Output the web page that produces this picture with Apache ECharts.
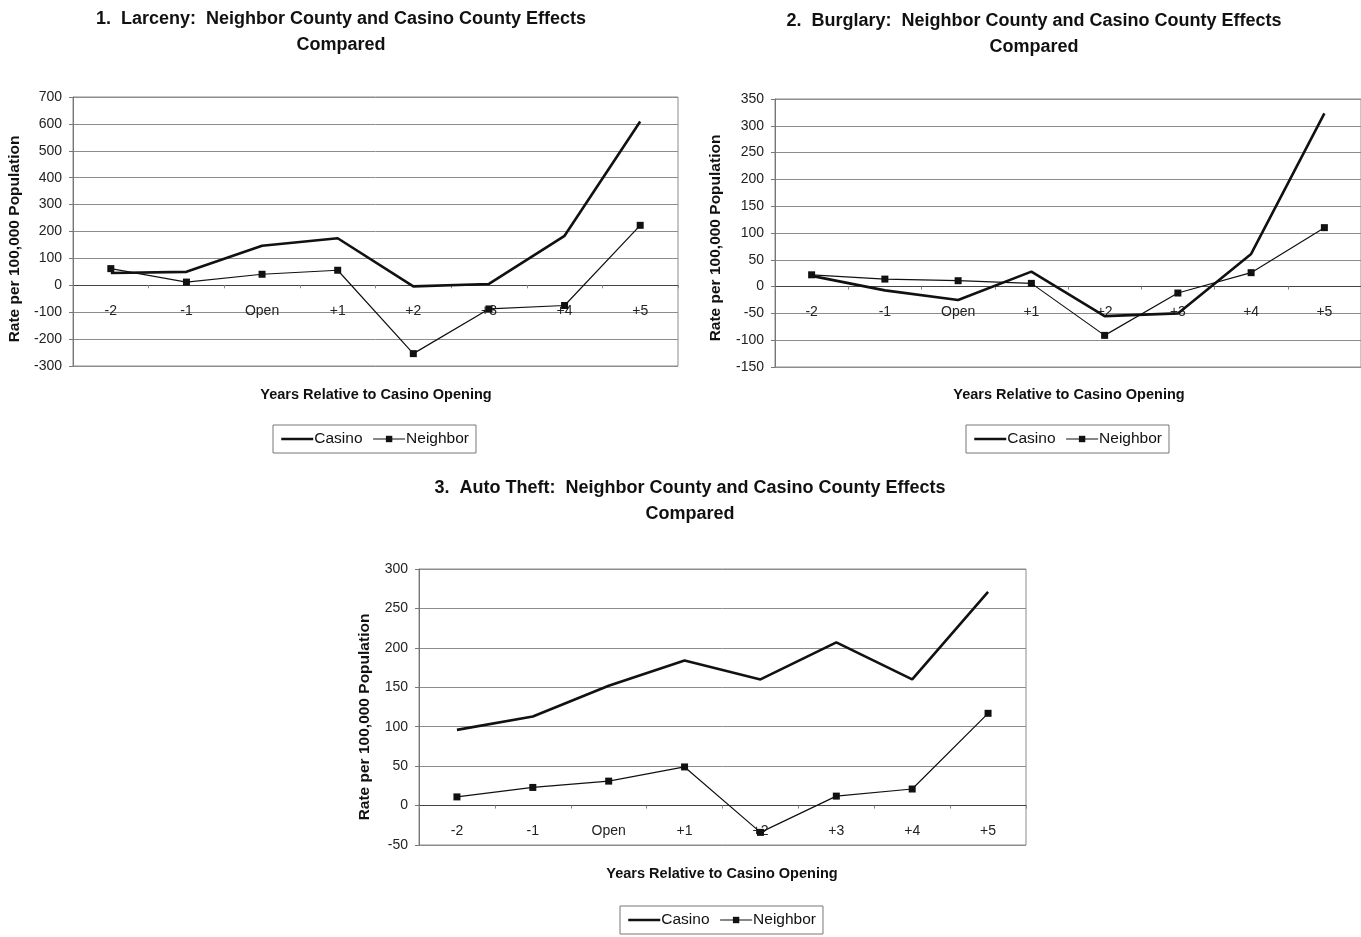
<!DOCTYPE html>
<html>
<head>
<meta charset="utf-8">
<title>Neighbor County and Casino County Effects Compared</title>
<script src="https://cdn.jsdelivr.net/npm/echarts@6/dist/echarts.min.js"></script>
<style>
  html, body { margin: 0; padding: 0; background: #fff; }
  #chart { width: 1361px; height: 937px; }
</style>
</head>
<body>
<div id="chart"></div>
<script>
// Years relative to casino opening
const years = ['-2', '-1', 'Open', '+1', '+2', '+3', '+4', '+5'];

// 1. Larceny (rate per 100,000 population)
const larcenyCasino   = [46, 50, 147, 175, -4, 5, 184, 609];
const larcenyNeighbor = [62, 12, 41, 56, -254, -88, -75, 223];

// 2. Burglary
const burglaryCasino   = [20, -7, -25, 28, -55, -50, 61, 323];
const burglaryNeighbor = [22, 14, 11, 6, -91, -12, 26, 110];

// 3. Auto theft
const autoCasino   = [96, 113, 152, 184, 160, 207, 160, 271];
const autoNeighbor = [11, 23, 31, 49, -34, 12, 21, 117];

// Value-axis ranges
const larcenyAxis  = { min: -300, max: 700, interval: 100 };
const burglaryAxis = { min: -150, max: 350, interval: 50 };
const autoAxis     = { min: -50,  max: 300, interval: 50 };

const titles = [
  '1.  Larceny:  Neighbor County and Casino County Effects\nCompared',
  '2.  Burglary:  Neighbor County and Casino County Effects\nCompared',
  '3.  Auto Theft:  Neighbor County and Casino County Effects\nCompared'
];
const yName = 'Rate per 100,000 Population';
const xName = 'Years Relative to Casino Opening';

const FONT = '"Liberation Sans", Arial, sans-serif';

// panel layout: grid box, title centre, axis-name spots, legend spot
const panels = [
  { grid: { left: 73, top: 97, width: 605, height: 269 },
    titleX: 336, titleY: 1, yNameX: 15, yNameY: 239, xNameX: 376, xNameY: 395,
    legendX: 273, legendY: 425, axis: larcenyAxis, casino: larcenyCasino, neighbor: larcenyNeighbor },
  { grid: { left: 775, top: 99, width: 586, height: 268 },
    titleX: 1029, titleY: 3, yNameX: 716, yNameY: 238, xNameX: 1069, xNameY: 395,
    legendX: 966, legendY: 425, axis: burglaryAxis, casino: burglaryCasino, neighbor: burglaryNeighbor },
  { grid: { left: 419, top: 569, width: 607, height: 276 },
    titleX: 685, titleY: 470, yNameX: 365, yNameY: 717, xNameX: 722, xNameY: 874,
    legendX: 620, legendY: 906, axis: autoAxis, casino: autoCasino, neighbor: autoNeighbor }
];

// the category axis sits on the zero line: lift it from the grid bottom by zero's share of the height
function zeroLift(p) {
  return -p.grid.height * (0 - p.axis.min) / (p.axis.max - p.axis.min);
}

const option = {
  backgroundColor: '#fff',
  animation: false,
  textStyle: { fontFamily: FONT },
  title: panels.map((p, i) => ({
    text: titles[i],
    left: p.titleX,
    top: p.titleY,
    textAlign: 'center',
    textStyle: { fontFamily: FONT, fontSize: 18, fontWeight: 'bold', color: '#111', lineHeight: 26 }
  })),
  legend: panels.map((p) => ({
    data: [
      { name: 'Casino', itemStyle: { opacity: 0 }, lineStyle: { width: 2.5, color: '#111' } },
      { name: 'Neighbor', lineStyle: { width: 1.2, color: '#111' } }
    ],
    left: p.legendX,
    top: p.legendY,
    orient: 'horizontal',
    borderColor: '#777',
    borderWidth: 1,
    padding: [6, 7, 6, 7],
    itemGap: 10,
    itemWidth: 32,
    itemHeight: 8,
    selectedMode: false,
    textStyle: { fontFamily: FONT, fontSize: 15.5, color: '#111', padding: [0, 0, 0, -4] }
  })),
  grid: panels.map((p) => Object.assign({
    show: true, borderColor: '#8c8c8c', borderWidth: 1, backgroundColor: 'transparent'
  }, p.grid)),
  xAxis: panels.map((p, i) => ({
    type: 'category',
    gridIndex: i,
    data: years,
    boundaryGap: true,
    offset: zeroLift(p),
    axisLine: { onZero: false, lineStyle: { color: '#444', width: 1 } },
    axisTick: { show: true, length: 3, alignWithLabel: false, lineStyle: { color: '#888' } },
    axisLabel: { fontFamily: FONT, fontSize: 14, color: '#222', margin: 19 },
    splitLine: { show: false }
  })),
  yAxis: panels.map((p, i) => ({
    type: 'value',
    gridIndex: i,
    min: p.axis.min,
    max: p.axis.max,
    interval: p.axis.interval,
    axisLine: { show: true, lineStyle: { color: '#777' } },
    axisTick: { show: true, length: 4, lineStyle: { color: '#777' } },
    axisLabel: { fontFamily: FONT, fontSize: 14, color: '#222', margin: 11 },
    splitLine: { show: true, lineStyle: { color: '#8c8c8c', width: 1 } }
  })),
  series: panels.flatMap((p, i) => [
    {
      name: 'Casino', type: 'line', xAxisIndex: i, yAxisIndex: i,
      data: p.casino, symbol: 'none',
      lineStyle: { color: '#111', width: 2.6 }, itemStyle: { color: '#111' }, z: 3
    },
    {
      name: 'Neighbor', type: 'line', xAxisIndex: i, yAxisIndex: i,
      data: p.neighbor, symbol: 'rect', symbolSize: 7,
      lineStyle: { color: '#111', width: 1.2 }, itemStyle: { color: '#111' }, z: 4
    }
  ]),
  graphic: panels.flatMap((p) => [
    {
      type: 'text', x: p.yNameX, y: p.yNameY, rotation: Math.PI / 2,
      style: { text: yName, fontFamily: FONT, fontSize: 15.5, fontWeight: 'bold', fill: '#111',
               align: 'center', verticalAlign: 'middle' }
    },
    {
      type: 'text', x: p.xNameX, y: p.xNameY,
      style: { text: xName, fontFamily: FONT, fontSize: 14.5, fontWeight: 'bold', fill: '#111',
               align: 'center', verticalAlign: 'middle' }
    }
  ])
};

const chart = echarts.init(document.getElementById('chart'), null, { renderer: 'canvas' });
chart.setOption(option);
</script>
</body>
</html>
